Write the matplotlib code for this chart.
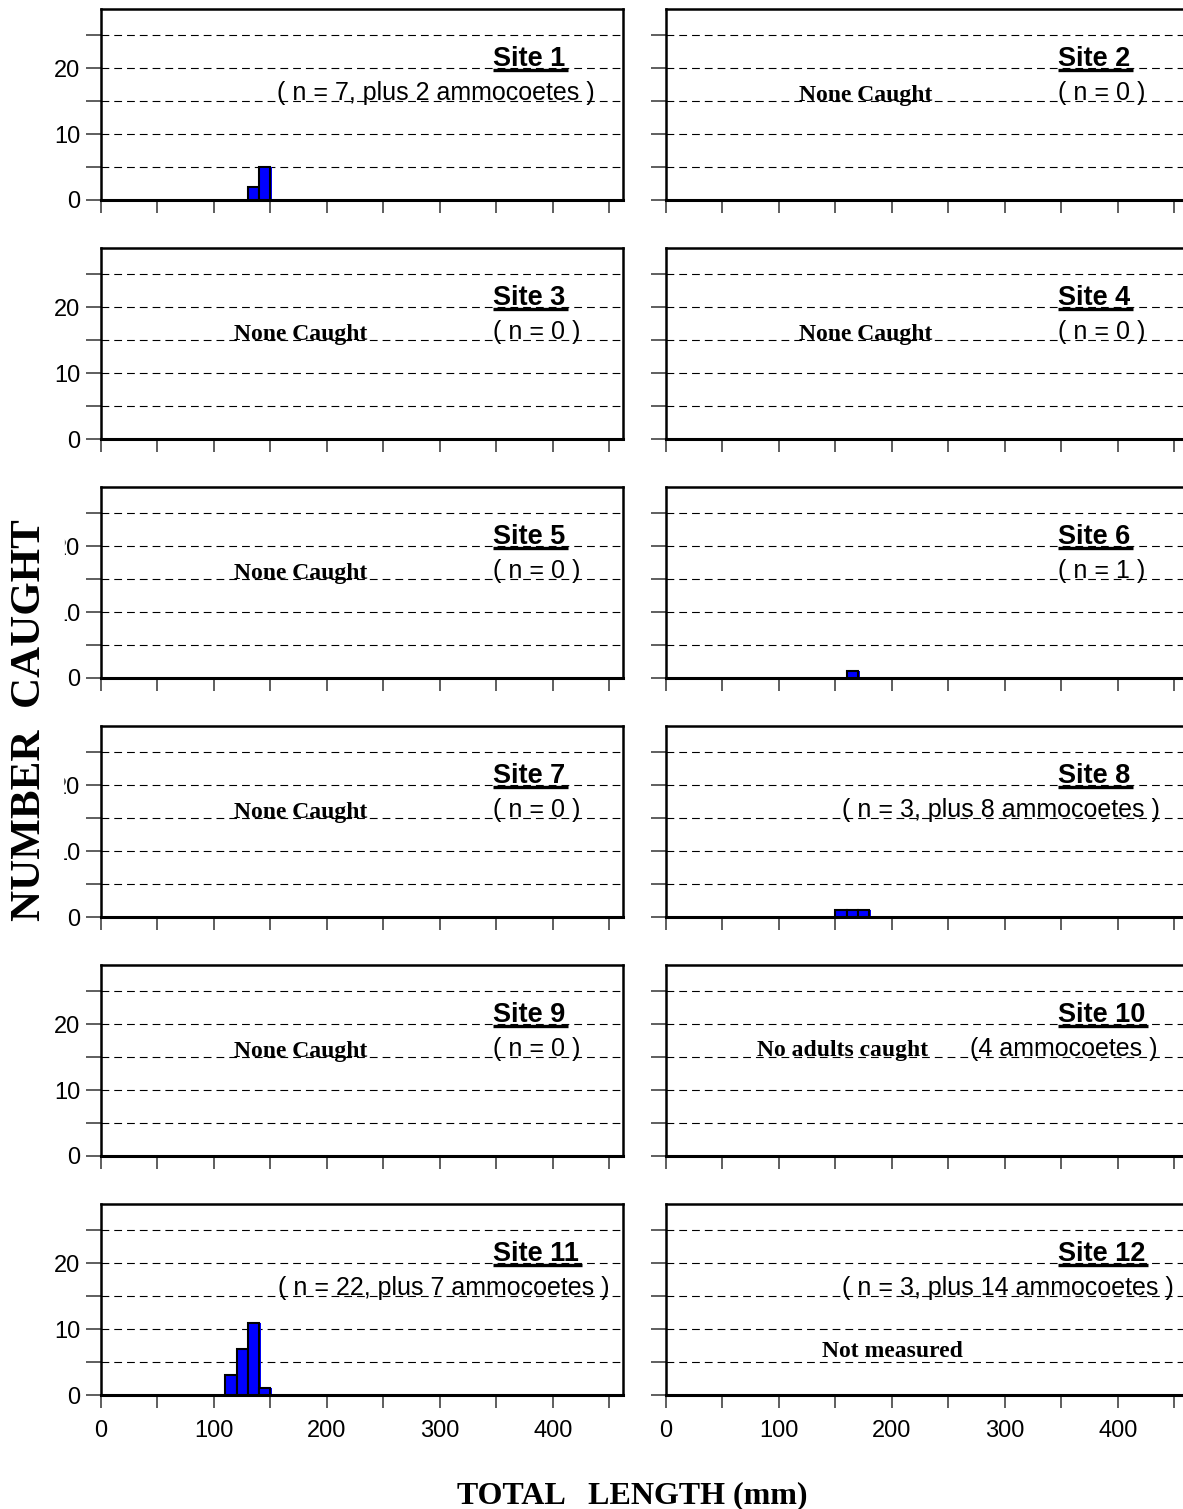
import numpy as np
import matplotlib
matplotlib.use('Agg')
import matplotlib.pyplot as plt

# ── Data: length-frequency of adults per site (10 mm bins) ────────────────
bin_width = 10
site_names = ['Site 1', 'Site 2', 'Site 3', 'Site 4', 'Site 5', 'Site 6',
              'Site 7', 'Site 8', 'Site 9', 'Site 10', 'Site 11', 'Site 12']

bin_starts = {
    'Site 1':  [130, 140],
    'Site 6':  [160],
    'Site 8':  [150, 160, 170],
    'Site 11': [110, 120, 130, 140],
}
bin_counts = {
    'Site 1':  [2, 5],
    'Site 6':  [1],
    'Site 8':  [1, 1, 1],
    'Site 11': [3, 7, 11, 1],
}

n_labels = {
    'Site 1':  '( n = 7, plus 2 ammocoetes )',
    'Site 2':  '( n = 0 )',
    'Site 3':  '( n = 0 )',
    'Site 4':  '( n = 0 )',
    'Site 5':  '( n = 0 )',
    'Site 6':  '( n = 1 )',
    'Site 7':  '( n = 0 )',
    'Site 8':  '( n = 3, plus 8 ammocoetes )',
    'Site 9':  '( n = 0 )',
    'Site 10': '(4 ammocoetes )',
    'Site 11': '( n = 22, plus 7 ammocoetes )',
    'Site 12': '( n = 3, plus 14 ammocoetes )',
}
notes = {
    'Site 2':  'None Caught',
    'Site 3':  'None Caught',
    'Site 4':  'None Caught',
    'Site 5':  'None Caught',
    'Site 7':  'None Caught',
    'Site 9':  'None Caught',
    'Site 10': 'No adults caught',
    'Site 12': 'Not measured',
}

x_ticks = [0, 100, 200, 300, 400]
y_ticks = [0, 10, 20]

# ── Layout (positions in data units of each panel) ────────────────────────
n_label_x = {'Site 1': 296, 'Site 8': 296, 'Site 10': 352,
             'Site 11': 303, 'Site 12': 303}          # centred labels
note_pos = {'None Caught': (177, 15.0), 'No adults caught': (156, 15.2),
            'Not measured': (200, 5.7)}

W, H = 1183, 1509
fig = plt.figure(figsize=(W / 100, H / 100), dpi=100)

SANS = 'Liberation Sans'
SERIF = 'Liberation Serif'
grid_style = dict(color='black', linewidth=0.8, linestyle=(0, (7, 4.5)))

axes = []
for i, name in enumerate(site_names):
    row, col = divmod(i, 2)
    left_px = 101 if col == 0 else 666
    top_px = 9 + 239 * row
    ax = fig.add_axes([left_px / W, 1 - (top_px + 191) / H, 522 / W, 191 / H])
    axes.append(ax)

    ax.set_xlim(0, 462)
    ax.set_ylim(0, 29)
    ax.set_axisbelow(True)

    for yv in [5, 10, 15, 20, 25]:
        ax.axhline(yv, zorder=0.5, **grid_style)

    # bars: blue fill slightly offset, then outlined bar on top
    if name in bin_starts:
        starts = np.array(bin_starts[name], dtype=float)
        counts = bin_counts[name]
        ax.bar(starts + 1.6, counts, width=bin_width, align='edge',
               color='#0000ff', linewidth=0, zorder=2)
        ax.bar(starts, counts, width=bin_width, align='edge',
               facecolor='#0000ff', edgecolor='black', linewidth=1.5, zorder=3)

    ax.set_xticks(np.arange(0, 451, 50))
    ax.set_xticklabels([str(v) if v in x_ticks else '' for v in np.arange(0, 451, 50)]
                       if row == 5 else [])
    ax.set_yticks(np.arange(0, 26, 5))
    ax.set_yticklabels([str(v) if (v in y_ticks and col == 0) else ''
                        for v in np.arange(0, 26, 5)])
    ax.tick_params(axis='x', direction='out', length=9, width=1.1,
                   color='#333333', pad=9, labelsize=17)
    ax.tick_params(axis='y', direction='out', length=11, width=1.1,
                   color='#333333', pad=4, labelsize=17)
    for lab in ax.get_xticklabels() + ax.get_yticklabels():
        lab.set_fontfamily(SANS)
    for side in ['left', 'right', 'top']:
        ax.spines[side].set_linewidth(1.8)
    ax.spines['bottom'].set_linewidth(2.2)

    # site title (bold, underlined)
    t = ax.text(347, 20.4, name, fontsize=19.5, fontweight='bold',
                family=SANS, ha='left', va='baseline', zorder=5)
    # n label
    if name in n_label_x:
        ax.text(n_label_x[name], 15.2, n_labels[name], fontsize=18,
                family=SANS, ha='center', va='baseline', zorder=5)
    else:
        ax.text(347, 15.2, n_labels[name], fontsize=18,
                family=SANS, ha='left', va='baseline', zorder=5)
    if name in notes:
        nx, ny = note_pos[notes[name]]
        ax.text(nx, ny, notes[name], fontsize=17, fontweight='bold',
                family=SERIF, ha='center', va='baseline', zorder=5)
    ax._site_title = t

# underline the site titles
fig.canvas.draw()
renderer = fig.canvas.get_renderer()
for ax in axes:
    bb = ax._site_title.get_window_extent(renderer)
    inv = ax.transData.inverted()
    x0 = inv.transform((bb.x0, 0))[0]
    x1 = inv.transform((bb.x1 + 3, 0))[0]
    ax.plot([x0, x1], [19.7, 19.7], color='black', linewidth=2.4,
            solid_capstyle='butt', clip_on=False, zorder=5)

fig.text(30 / W, 1 - 720 / H, 'NUMBER  CAUGHT', rotation=90, fontsize=31,
         fontweight='bold', family=SERIF, ha='center', va='center',
         bbox=dict(boxstyle='square,pad=0.36', facecolor='white',
                   edgecolor='none'))
fig.text(632 / W, 1 - 1503 / H, 'TOTAL   LENGTH (mm)', fontsize=23,
         fontweight='bold', family=SERIF, ha='center', va='baseline')

fig.savefig('out.png', dpi=100)
